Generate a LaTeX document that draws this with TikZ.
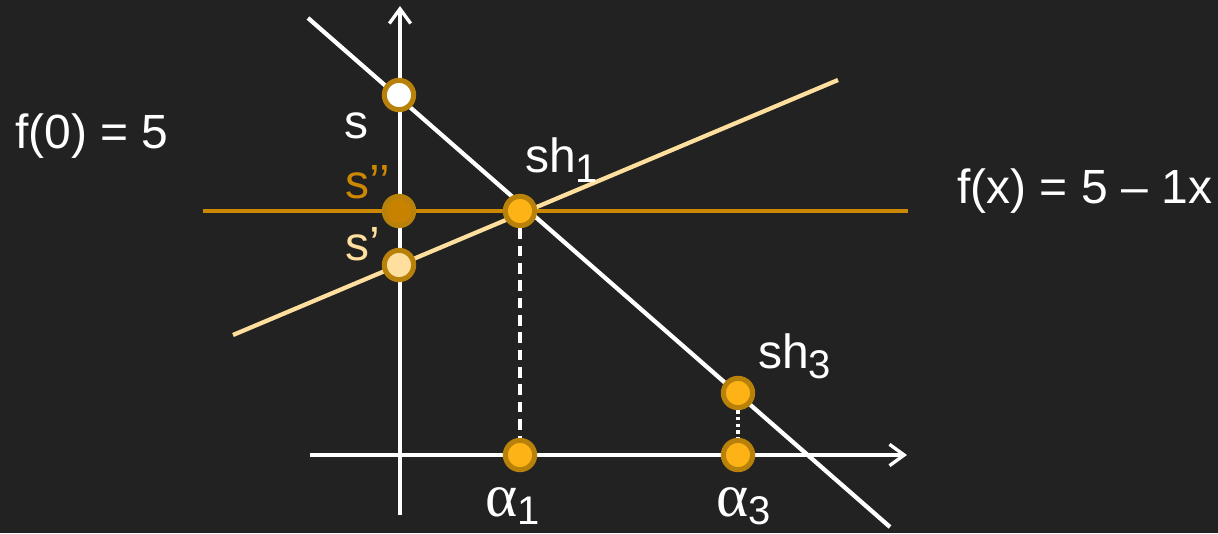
\documentclass[tikz,border=0pt]{standalone}
\usepackage{fontspec}
\setmainfont{Liberation Sans}
\newfontfamily\greekfont{Liberation Serif}
\usetikzlibrary{arrows.meta}
\definecolor{bg}{HTML}{222222}
\definecolor{ring}{HTML}{B8820A}
\definecolor{orangeline}{HTML}{CC8800}
\definecolor{lightline}{HTML}{FFDF9E}
\definecolor{ptfill}{HTML}{FDB316}
\definecolor{sddfill}{HTML}{C98200}
\begin{document}
\begin{tikzpicture}[x=0.75pt,y=-0.75pt,
  axis/.style={white,line width=3.2pt,-{Straight Barb[length=11pt,width=16pt,line width=2.5pt]}},
  whiteline/.style={white,line width=3.2pt},
  pt/.style={circle,draw=ring,line width=3.8pt,minimum size=22pt,inner sep=0pt},
  lbl/.style={anchor=base west,inner sep=0pt,font=\fontsize{36}{36}\selectfont}]
\fill[bg] (0,0) rectangle (1218,533);
\useasboundingbox (0,0) rectangle (1218,533);
% coordinates
\coordinate (ybot) at (400,515);
\coordinate (ytop) at (400,6);
\coordinate (xl) at (310,455);
\coordinate (xr) at (907,455);
\coordinate (d1) at (308,18);
\coordinate (d2) at (890,527);
\coordinate (a1) at (233,335);
\coordinate (a2) at (838,80);
\coordinate (h1) at (203,211);
\coordinate (h2) at (908,211);
% lines
\draw[axis] (ybot) -- (ytop);
\draw[axis] (xl) -- (xr);
\draw[whiteline] (d1) -- (d2);
\draw[lightline,line width=3.2pt] (a1) -- (a2);
\draw[orangeline,line width=3.2pt] (h1) -- (h2);
% points
\node[pt,fill=white] (s) at (399,95) {};
\node[pt,fill=sddfill] (sdd) at (399,211) {};
\node[pt,fill=lightline] (sd) at (399,265) {};
\node[pt,fill=ptfill] (sh1) at (520,211) {};
\node[pt,fill=ptfill] (al1) at (520,455) {};
\node[pt,fill=ptfill] (sh3) at (738,393) {};
\node[pt,fill=ptfill] (al3) at (738,455) {};
\draw[white,line width=2.5pt,dash pattern=on 8pt off 5pt] (sh1.south) -- (al1.north);
\draw[white,line width=2.5pt,dash pattern=on 2.5pt off 2.5pt] (sh3.south) -- (al3.north);
% labels
\node[lbl,white] (ls) at (344,138) {s};
\node[lbl,orangeline] (lsdd) at (345,198) {s’’};
\node[lbl,lightline] (lsd) at (345,260) {s’};
\node[lbl,white] (lsh1) at (525,172) {sh\raisebox{-8pt}{\fontsize{30}{30}\selectfont 1}};
\node[lbl,white] (lsh3) at (758,368) {sh\raisebox{-8pt}{\fontsize{30}{30}\selectfont 3}};
\node[lbl,white] (lal1) at (485,516) {{\greekfont\fontsize{46}{46}\selectfont α}\raisebox{-6pt}{\fontsize{30}{30}\selectfont 1}};
\node[lbl,white] (lal3) at (716,516) {{\greekfont\fontsize{46}{46}\selectfont α}\raisebox{-6pt}{\fontsize{30}{30}\selectfont 3}};
\node[lbl,white] (f0) at (15,148) {f(0) = 5};
\node[lbl,white] (fx) at (957,203) {f(x) = 5 – 1x};
\end{tikzpicture}
\end{document}
